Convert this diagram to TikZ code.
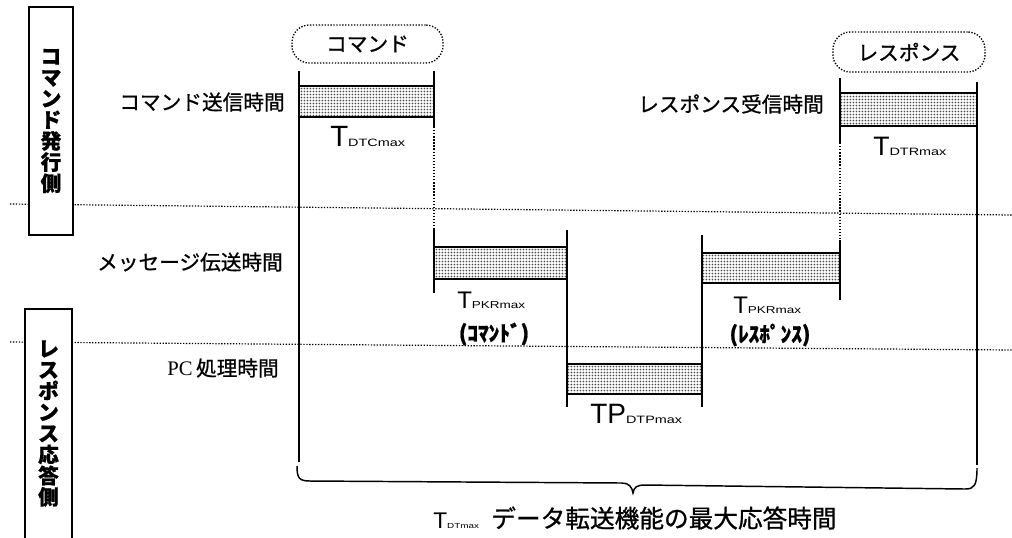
\documentclass[tikz,border=0pt]{standalone}
\usepackage{fontspec}
\usetikzlibrary{patterns}
\newfontfamily\jp[FakeBold=0.9]{Noto Sans CJK JP}
\newfontfamily\lsans{Liberation Sans}
\newfontfamily\subf[FakeStretch=1.35]{Liberation Sans}
\newfontfamily\lserif{Liberation Serif}
\pgfdeclarepatternformonly{finedots}{\pgfpoint{-1.1pt}{-1.1pt}}{\pgfpoint{1.1pt}{1.1pt}}{\pgfpoint{2.2pt}{2.2pt}}{\pgfpathcircle{\pgfpointorigin}{0.72pt}\pgfusepath{fill}}
\newcommand\Tsub[4]{{\lsans\fontsize{#1}{#1}\selectfont #2}{\subf\fontsize{#3}{#3}\selectfont #4}}
\begin{document}
\begin{tikzpicture}[x=0.75pt,y=-0.75pt,
  jlab/.style={font=\jp\fontsize{15.5}{18}\selectfont, inner sep=0pt},
  plab/.style={font=\jp\bfseries\fontsize{16}{18}\selectfont, inner sep=0pt},
  tlab/.style={inner sep=0pt, anchor=base west},
  bar/.style={draw, line width=1.1pt, pattern=finedots, pattern color=black!70, inner sep=0pt},
  vline/.style={line width=1.2pt},
  link/.style={line width=0.9pt, dash pattern=on 1pt off 1.3pt},
  divider/.style={line width=0.9pt, dash pattern=on 1pt off 1.2pt},
  sidebox/.style={line width=1.2pt, fill=white, inner sep=0pt, align=center, font=\jp\bfseries\fontsize{15.5}{15.9}\selectfont},
  capsule/.style={draw, line width=1pt, dash pattern=on 1pt off 1.2pt, rounded corners=13pt, inner sep=0pt, font=\jp\fontsize{15.5}{18}\selectfont},
  bracepath/.style={line width=1.1pt}
]
\useasboundingbox (0,0) rectangle (1012,537);
% dividers
\coordinate (d1a) at (10,204); \coordinate (d1b) at (1012,215);
\coordinate (d2a) at (10,342); \coordinate (d2b) at (1012,350);
\draw[divider] (d1a) -- (d1b);
\draw[divider] (d2a) -- (d2b);
% side boxes
\node[sidebox, draw, minimum width=33pt, minimum height=171pt] (s1) at (51,121) {コ\\マ\\ン\\ド\\発\\行\\側};
\node[sidebox, minimum width=33.75pt, minimum height=170.25pt] (s2) at (48.5,423.5) {レ\\ス\\ポ\\ン\\ス\\応\\答\\側};
\draw[line width=1.2pt] (s2.south west) |- (s2.north east) -- (s2.south east);
% capsules
\node[capsule, minimum width=113.25pt, minimum height=28.5pt] (cmd) at (367.5,44) {コマンド};
\node[capsule, minimum width=114pt, minimum height=30pt] (rsp) at (909,52) {レスポンス};
% bars
\node[bar, minimum width=101.25pt, minimum height=23.25pt] (b1) at (366.5,101.5) {};
\node[bar, minimum width=99.75pt, minimum height=24pt] (b2) at (500.5,263) {};
\node[bar, minimum width=101.25pt, minimum height=22.5pt] (b3) at (634.5,379) {};
\node[bar, minimum width=103.5pt, minimum height=22.5pt] (b4) at (771,268) {};
\node[bar, minimum width=102.75pt, minimum height=24.75pt] (b5) at (908.5,109.5) {};
% verticals
\coordinate (v1t) at (299,71); \coordinate (v1b) at (299,462);
\coordinate (v2t) at (434,71); \coordinate (v2a) at (434,127); \coordinate (v2c) at (434,230); \coordinate (v2b) at (434,293);
\coordinate (v3t) at (567,230); \coordinate (v3b) at (567,407);
\coordinate (v4t) at (702,235); \coordinate (v4b) at (702,407);
\coordinate (v5t) at (840,78); \coordinate (v5a) at (840,143); \coordinate (v5c) at (840,240); \coordinate (v5b) at (840,300);
\coordinate (v6t) at (977,82); \coordinate (v6b) at (977,465);
\draw[vline] (v1t) -- (v1b);
\draw[vline] (v2t) -- (v2a);
\draw[link] (v2a) -- (v2c);
\draw[vline] (v2c) -- (v2b);
\draw[vline] (v3t) -- (v3b);
\draw[vline] (v4t) -- (v4b);
\draw[vline] (v5t) -- (v5a);
\draw[link] (v5a) -- (v5c);
\draw[vline] (v5c) -- (v5b);
\draw[vline] (v6t) -- (v6b);
% brace
\coordinate (brl) at (297,466);
\coordinate (brt) at (633,493);
\coordinate (brr) at (977,468);
\draw[bracepath] (brl) .. controls (297,478) and (299,481) .. (310,481) -- (622,483)
  .. controls (629,483) and (632,487) .. (brt)
  .. controls (634,487) and (637,485) .. (645,485) -- (965,489)
  .. controls (974,489) and (977,486) .. (brr);
% timing labels
\node[tlab] (tdtc) at (330,146) {\Tsub{22}{T}{8}{DTCmax}};
\node[tlab] (tdtr) at (873,155) {\Tsub{20}{T}{8}{DTRmax}};
\node[tlab] (tpkc) at (457,308) {\Tsub{18}{T}{7.5}{PKRmax}};
\node[tlab] (tpkr) at (733,313) {\Tsub{18}{T}{7.5}{PKRmax}};
\node[tlab] (tdtp) at (590,423) {\Tsub{21}{TP}{8}{DTPmax}};
\node[tlab] (tdt) at (433,528) {\Tsub{17}{T}{5.5}{DTmax}};
% Japanese labels
\node[jlab] (l1) at (202,102) {コマンド送信時間};
\node[jlab] (l2) at (190,262) {メッセージ伝送時間};
\node[jlab] (l3) at (223,368) {{\lserif PC}\,処理時間};
\node[jlab] (l4) at (731,104) {レスポンス受信時間};
\node[plab] (p1) at (494,334) {(ｺﾏﾝﾄﾞ)};
\node[plab] (p2) at (770,335) {(ﾚｽﾎﾟﾝｽ)};
\node[jlab, font=\jp\fontsize{18.5}{20}\selectfont] (cap) at (664,518) {データ転送機能の最大応答時間};
\end{tikzpicture}
\end{document}
